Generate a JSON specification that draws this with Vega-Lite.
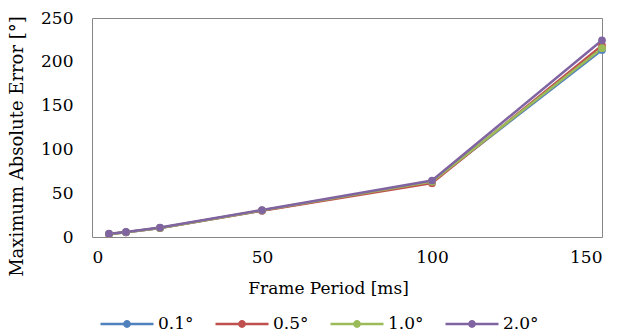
{
  "$schema": "https://vega.github.io/schema/vega-lite/v6.json",
  "width": 510,
  "height": 219,
  "autosize": "none",
  "padding": {"left": 92, "top": 18, "right": 15, "bottom": 96},
  "background": "white",
  "config": {
    "view": {"stroke": "#868686", "strokeWidth": 1},
    "font": "DejaVu Serif",
    "axis": {"domain": false, "ticks": false, "grid": false, "labelFont": "DejaVu Serif", "titleFont": "DejaVu Serif", "labelColor": "#000", "titleColor": "#000", "labelFontSize": 17, "titleFontSize": 17, "titleFontWeight": "normal"},
    "legend": {"labelFont": "DejaVu Serif", "labelFontSize": 17, "labelColor": "#000"}
  },
  "data": {"values": [
    {"period": 5, "v": 3.4, "s": "0.1°"},
    {"period": 10, "v": 5.4, "s": "0.1°"},
    {"period": 20, "v": 10.3, "s": "0.1°"},
    {"period": 50, "v": 30.2, "s": "0.1°"},
    {"period": 100, "v": 63.0, "s": "0.1°"},
    {"period": 150, "v": 213.5, "s": "0.1°"},
    {"period": 5, "v": 3.4, "s": "0.5°"},
    {"period": 10, "v": 5.3, "s": "0.5°"},
    {"period": 20, "v": 10.2, "s": "0.5°"},
    {"period": 50, "v": 30.0, "s": "0.5°"},
    {"period": 100, "v": 61.5, "s": "0.5°"},
    {"period": 150, "v": 218.5, "s": "0.5°"},
    {"period": 5, "v": 3.5, "s": "1.0°"},
    {"period": 10, "v": 5.5, "s": "1.0°"},
    {"period": 20, "v": 10.4, "s": "1.0°"},
    {"period": 50, "v": 30.4, "s": "1.0°"},
    {"period": 100, "v": 63.2, "s": "1.0°"},
    {"period": 150, "v": 215.5, "s": "1.0°"},
    {"period": 5, "v": 3.8, "s": "2.0°"},
    {"period": 10, "v": 5.8, "s": "2.0°"},
    {"period": 20, "v": 10.8, "s": "2.0°"},
    {"period": 50, "v": 30.8, "s": "2.0°"},
    {"period": 100, "v": 64.5, "s": "2.0°"},
    {"period": 150, "v": 224.5, "s": "2.0°"}
  ]},
  "encoding": {
    "x": {"field": "period", "type": "quantitative", "scale": {"domain": [0, 150], "nice": false},
      "axis": {"values": [0, 50, 100, 150], "title": "Frame Period [ms]", "labelPadding": 12, "titleX": 236, "titleY": 56, "titleBaseline": "alphabetic", "titleAlign": "center"}},
    "y": {"field": "v", "type": "quantitative", "scale": {"domain": [0, 250], "nice": false},
      "axis": {"values": [0, 50, 100, 150, 200, 250], "title": "Maximum Absolute Error [°]", "titleFontSize": 18, "labelPadding": 19, "titleX": -75, "titleY": 128, "titleAngle": -90, "titleBaseline": "middle", "titleAlign": "center"}},
    "color": {"field": "s", "type": "nominal",
      "scale": {"domain": ["0.1°", "0.5°", "1.0°", "2.0°"], "range": ["#4F81BD", "#C0504D", "#9BBB59", "#8064A2"]},
      "legend": {"title": null, "orient": "none", "direction": "horizontal", "legendX": 7, "legendY": 278, "padding": 0,
        "symbolType": "M-1,0L1,0M0.1,0A0.1,0.1 0 1,1 -0.1,0A0.1,0.1 0 1,1 0.1,0Z",
        "symbolSize": 2809, "symbolStrokeWidth": 2.5, "labelOffset": 3, "columnPadding": 16,
        "encode": {"symbols": {"update": {"fill": {"scale": "color", "field": "value"}, "stroke": {"scale": "color", "field": "value"}, "opacity": {"value": 1}}}}}},
    "order": {"field": "s"}
  },
  "layer": [
    {"mark": {"type": "line", "strokeWidth": 2.5}},
    {"mark": {"type": "point", "filled": true, "size": 60, "opacity": 1, "shape": "circle"}}
  ]
}
